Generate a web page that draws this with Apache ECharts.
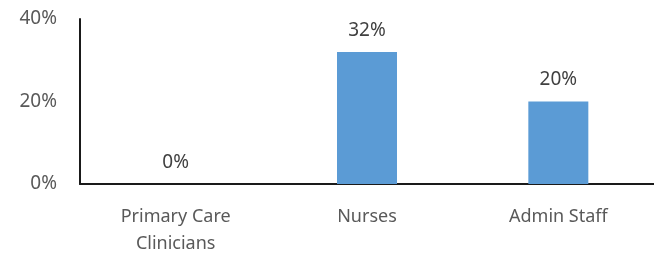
<!DOCTYPE html>
<html>
<head>
<meta charset="UTF-8">
<script src="https://cdn.jsdelivr.net/npm/echarts@6/dist/echarts.min.js"></script>
<style>
  * { margin: 0; padding: 0; }
  body { background: #fff; }
  #chart { width: 654px; height: 257px; }
</style>
</head>
<body>
<div id="chart"></div>
<script>
  // data
  var categories = ['Primary Care\nClinicians', 'Nurses', 'Admin Staff'];
  var values = [0, 32, 20];
  var yTicks = [0, 20, 40];

  var font = '"Noto Sans", sans-serif';
  var chart = echarts.init(document.getElementById('chart'));

  chart.setOption({
    animation: false,
    grid: { left: 80, width: 578, top: 19, bottom: 71 },
    xAxis: {
      type: 'category',
      data: categories,
      axisLine: { lineStyle: { color: '#1a1a1a', width: 2 } },
      axisTick: { show: false },
      axisLabel: {
        color: '#595959', fontSize: 18, fontFamily: font,
        margin: 19, lineHeight: 27, interval: 0
      }
    },
    yAxis: {
      type: 'value',
      min: yTicks[0], max: yTicks[yTicks.length - 1], interval: 20,
      axisLine: { show: true, lineStyle: { color: '#1a1a1a', width: 2 } },
      axisTick: { show: false },
      splitLine: { show: false },
      axisLabel: {
        color: '#595959', fontSize: 19, fontFamily: font, margin: 23,
        formatter: function (v) { return v + '%'; }
      }
    },
    series: [{
      type: 'bar',
      data: values,
      barWidth: 60,
      itemStyle: { color: '#5b9bd5' },
      label: {
        show: true, position: 'top', distance: 12,
        color: '#404040', fontSize: 19, fontFamily: font,
        formatter: function (p) { return p.value + '%'; }
      }
    }]
  });
</script>
</body>
</html>
